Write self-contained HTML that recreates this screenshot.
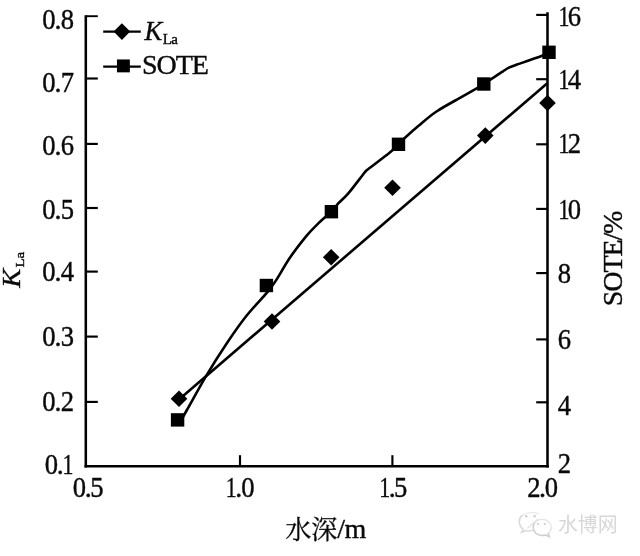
<!DOCTYPE html>
<html><head><meta charset="utf-8"><title>chart</title>
<style>html,body{margin:0;padding:0;background:#fff;}body{width:640px;height:556px;overflow:hidden;font-family:"Liberation Serif",serif;}svg{display:block;filter:blur(0.45px);}</style>
</head><body>
<svg width="640" height="556" viewBox="0 0 640 556">
<rect width="640" height="556" fill="#fff"/>
<g id="wm" fill="#d7d7d7" stroke="none">
<text x="558" y="531.8" font-size="20" font-family="'Liberation Sans', 'Noto Sans CJK SC', sans-serif" textLength="59.6" lengthAdjust="spacingAndGlyphs">水博网</text>
</g>
<g id="wmlogo" fill="none" stroke-linecap="round">
<path d="M538.5 513.8 C534 511.8 526 512 521.8 515.6" stroke="#ececec" stroke-width="1.4"/>
<path d="M521.8 515.6 C517.8 519.4 518.6 525.6 523.2 529.2 L521.6 532.4 L526.2 530.6 C528.4 531.2 530.4 531.0 532.4 530.4" stroke="#d9d9d9" stroke-width="1.5"/>
<path d="M534.0 524.4 C535.4 521.4 538.6 519.4 542.2 519.4 C547.4 519.4 551.2 522.9 551.2 527.4 C551.2 529.9 550 532 548.2 533.5" stroke="#e4e4e4" stroke-width="1.4"/>
<path d="M534.0 524.4 C533.5 525.4 533.2 526.5 533.2 527.6 C533.2 532.2 537.2 535.5 542.2 535.5 C543.4 535.5 544.5 535.3 545.6 535 L549.4 536.8 L548.2 533.5" stroke="#cdcdcd" stroke-width="1.5"/>
<path d="M527.8 527.9 L537.4 519.6" stroke="#e0e0e0" stroke-width="1.3"/>
</g>
<g fill="#cccccc"><circle cx="526.2" cy="516.2" r="1.2"/><circle cx="534.6" cy="516.2" r="1.2"/><circle cx="538.0" cy="524.0" r="1.1"/><circle cx="544.8" cy="524.0" r="1.1"/></g>
<g stroke="#000" stroke-width="2.55" fill="none" stroke-linecap="butt">
<path d="M85.8 15.25 V467.47499999999997"/>
<path d="M547.5 12.3 V467.47499999999997"/>
<path d="M84.52499999999999 466.2 H548.775"/>
<path d="M85.8 16.2 H97.8" stroke-width="1.9"/>
<path d="M85.8 78.5 H97.8" stroke-width="2.15"/>
<path d="M85.8 143.9 H97.8" stroke-width="2.15"/>
<path d="M85.8 208.0 H97.8" stroke-width="2.15"/>
<path d="M85.8 271.6 H97.8" stroke-width="2.15"/>
<path d="M85.8 336.6 H97.8" stroke-width="2.15"/>
<path d="M85.8 401.9 H97.8" stroke-width="2.15"/>
<path d="M547.5 14.9 H536.2" stroke-width="2.15"/>
<path d="M547.5 79.2 H536.2" stroke-width="2.15"/>
<path d="M547.5 144.3 H536.2" stroke-width="2.15"/>
<path d="M547.5 208.9 H536.2" stroke-width="2.15"/>
<path d="M547.5 273.1 H536.2" stroke-width="2.15"/>
<path d="M547.5 339.4 H536.2" stroke-width="2.15"/>
<path d="M547.5 402.3 H536.2" stroke-width="2.15"/>
<path d="M240.0 466.2 V455.2" stroke-width="2.15"/>
<path d="M392.4 466.2 V455.2" stroke-width="2.15"/>
</g>
<path d="M181.4 419.9 C182.3 418.2 182.7 417.4 186.9 410.0 C191.1 402.6 199.8 386.5 206.5 375.3 C213.2 364.1 220.3 353.0 227.0 343.0 C233.7 333.0 240.2 323.7 246.9 315.3 C253.6 306.9 262.1 298.4 267.0 292.6 C271.9 286.8 272.1 286.3 276.0 280.4 C279.9 274.5 285.1 264.7 290.2 257.3 C295.3 249.9 301.9 241.5 306.5 235.9 C311.1 230.3 314.7 227.0 317.8 223.9 C320.9 220.8 322.7 219.3 325.0 217.3 C327.3 215.3 329.3 213.9 331.4 211.7 C333.5 209.5 334.8 207.1 337.6 204.1 C340.4 201.1 344.2 198.2 348.3 193.4 C352.4 188.6 359.6 178.9 362.5 175.2 C365.4 171.5 364.6 172.2 365.9 171.0 C367.1 169.8 366.8 170.2 370.0 167.8 C373.2 165.4 381.3 159.2 385.0 156.3 C388.7 153.4 389.9 152.6 392.2 150.6 C394.4 148.6 396.4 146.4 398.5 144.3 C400.6 142.2 401.6 140.9 405.0 137.8 C408.4 134.7 413.6 130.0 418.9 125.6 C424.1 121.2 429.6 116.1 436.5 111.5 C443.4 106.9 453.1 101.8 460.0 97.9 C466.9 94.0 473.6 90.2 477.6 87.9 C481.6 85.6 481.7 85.4 483.8 84.0 C485.9 82.6 487.1 81.8 490.3 79.7 C493.5 77.6 499.8 73.3 503.0 71.3 C506.2 69.2 507.1 68.5 509.4 67.4 C511.7 66.3 511.6 66.5 517.0 64.6 C522.5 62.7 536.8 57.8 542.1 55.8 C547.4 53.8 547.9 52.9 549.0 52.3" fill="none" stroke="#000" stroke-width="2.6" stroke-linejoin="round"/>
<line x1="181.0" y1="397.64" x2="547.6" y2="82.99" stroke="#000" stroke-width="2.6"/>
<rect x="170.90" y="413.20" width="13.4" height="13.4" fill="#000"/>
<rect x="259.70" y="278.80" width="13.4" height="13.4" fill="#000"/>
<rect x="324.70" y="205.00" width="13.4" height="13.4" fill="#000"/>
<rect x="391.80" y="137.60" width="13.4" height="13.4" fill="#000"/>
<rect x="477.10" y="77.30" width="13.4" height="13.4" fill="#000"/>
<rect x="542.30" y="45.60" width="13.4" height="13.4" fill="#000"/>
<path d="M170.7 398.7 L179.0 390.4 L187.3 398.7 L179.0 407.0z" fill="#000"/>
<path d="M263.7 321.5 L272.0 313.2 L280.3 321.5 L272.0 329.8z" fill="#000"/>
<path d="M322.9 257.3 L331.2 249.0 L339.5 257.3 L331.2 265.6z" fill="#000"/>
<path d="M384.2 187.8 L392.5 179.5 L400.8 187.8 L392.5 196.10000000000002z" fill="#000"/>
<path d="M477.0 135.6 L485.3 127.3 L493.6 135.6 L485.3 143.9z" fill="#000"/>
<path d="M539.2 103.0 L547.5 94.7 L555.8 103.0 L547.5 111.3z" fill="#000"/>
<g stroke="#000" stroke-width="2.25"><path d="M103.2 31.5 H140.8"/><path d="M103.2 66.5 H140.8"/></g>
<path d="M113.60000000000001 31.6 L121.9 23.3 L130.20000000000002 31.6 L121.9 39.900000000000006z" fill="#000"/>
<rect x="116.95" y="59.45" width="12.9" height="12.9" fill="#000"/>
<g font-family="'Liberation Serif', serif" font-size="28" fill="#0a0a0a" stroke="#0a0a0a" stroke-width="0.4" stroke-linejoin="round">
<text transform="translate(144.6,40.3) scale(0.95,1)" font-style="italic">K</text>
<text x="162.8" y="43.7" font-size="15" letter-spacing="-0.6">La</text>
<text x="142.0" y="74.3" letter-spacing="-1.05">SOTE</text>
<text transform="translate(42.15,28.50) scale(0.950,1.05)">0</text><text x="54.40" y="28.50">.</text><text transform="translate(60.75,28.50) scale(0.950,1.05)">8</text>
<text transform="translate(42.15,92.20) scale(0.950,1.05)">0</text><text x="54.40" y="92.20">.</text><text transform="translate(60.79,92.20) scale(0.950,1.05)">7</text>
<text transform="translate(42.15,154.80) scale(0.950,1.05)">0</text><text x="54.40" y="154.80">.</text><text transform="translate(60.76,154.80) scale(0.950,1.05)">6</text>
<text transform="translate(42.15,218.60) scale(0.950,1.05)">0</text><text x="54.40" y="218.60">.</text><text transform="translate(60.78,218.60) scale(0.950,1.05)">5</text>
<text transform="translate(42.15,281.20) scale(0.950,1.05)">0</text><text x="54.40" y="281.20">.</text><text transform="translate(60.73,281.20) scale(0.950,1.05)">4</text>
<text transform="translate(42.15,346.00) scale(0.950,1.05)">0</text><text x="54.40" y="346.00">.</text><text transform="translate(60.77,346.00) scale(0.950,1.05)">3</text>
<text transform="translate(42.15,410.80) scale(0.950,1.05)">0</text><text x="54.40" y="410.80">.</text><text transform="translate(60.76,410.80) scale(0.950,1.05)">2</text>
<text transform="translate(44.75,474.30) scale(0.950,1.05)">0</text><text x="56.85" y="474.30">.</text><text transform="translate(62.50,474.30) scale(0.780,1.05)">1</text>
<text transform="translate(558.60,26.10) scale(0.780,1.05)">1</text><text transform="translate(567.76,26.10) scale(0.950,1.05)">6</text>
<text transform="translate(558.60,88.50) scale(0.780,1.05)">1</text><text transform="translate(567.73,88.50) scale(0.950,1.05)">4</text>
<text transform="translate(558.60,152.90) scale(0.780,1.05)">1</text><text transform="translate(567.76,152.90) scale(0.950,1.05)">2</text>
<text transform="translate(558.60,219.30) scale(0.780,1.05)">1</text><text transform="translate(567.75,219.30) scale(0.950,1.05)">0</text>
<text transform="translate(557.65,283.00) scale(0.950,1.05)">8</text>
<text transform="translate(557.66,349.10) scale(0.950,1.05)">6</text>
<text transform="translate(557.63,414.60) scale(0.950,1.05)">4</text>
<text transform="translate(557.66,473.40) scale(0.950,1.05)">2</text>
<text transform="translate(72.75,497.00) scale(0.950,1.05)">0</text><text x="84.85" y="497.00">.</text><text transform="translate(90.28,497.00) scale(0.950,1.05)">5</text>
<text transform="translate(225.70,496.90) scale(0.780,1.05)">1</text><text x="235.15" y="496.90">.</text><text transform="translate(241.30,496.90) scale(0.950,1.05)">0</text>
<text transform="translate(379.30,496.90) scale(0.780,1.05)">1</text><text x="388.75" y="496.90">.</text><text transform="translate(393.98,496.90) scale(0.950,1.05)">5</text>
<text transform="translate(527.16,496.70) scale(0.950,1.05)">2</text><text x="539.00" y="496.70">.</text><text transform="translate(544.85,496.70) scale(0.950,1.05)">0</text>
<text x="337.30" y="538.40">/</text><text x="344.60" y="538.40">m</text>
<text transform="translate(19.8,287.8) rotate(-90) scale(1.02,0.92)" font-style="italic">K</text>
<text transform="translate(23.7,267.4) rotate(-90) scale(1.2,0.95)" font-size="12.5" letter-spacing="-0.3">La</text>
<text transform="translate(621.8,306.2) rotate(-90)" letter-spacing="-1.1">SOTE/%</text>
</g>
<text x="285.2" y="539" font-size="26.2" font-family="'Liberation Serif', 'Noto Serif CJK SC', serif" fill="#0a0a0a" stroke="#0a0a0a" stroke-width="0.3" textLength="52.2" lengthAdjust="spacingAndGlyphs">水深</text>
</svg>
</body></html>
